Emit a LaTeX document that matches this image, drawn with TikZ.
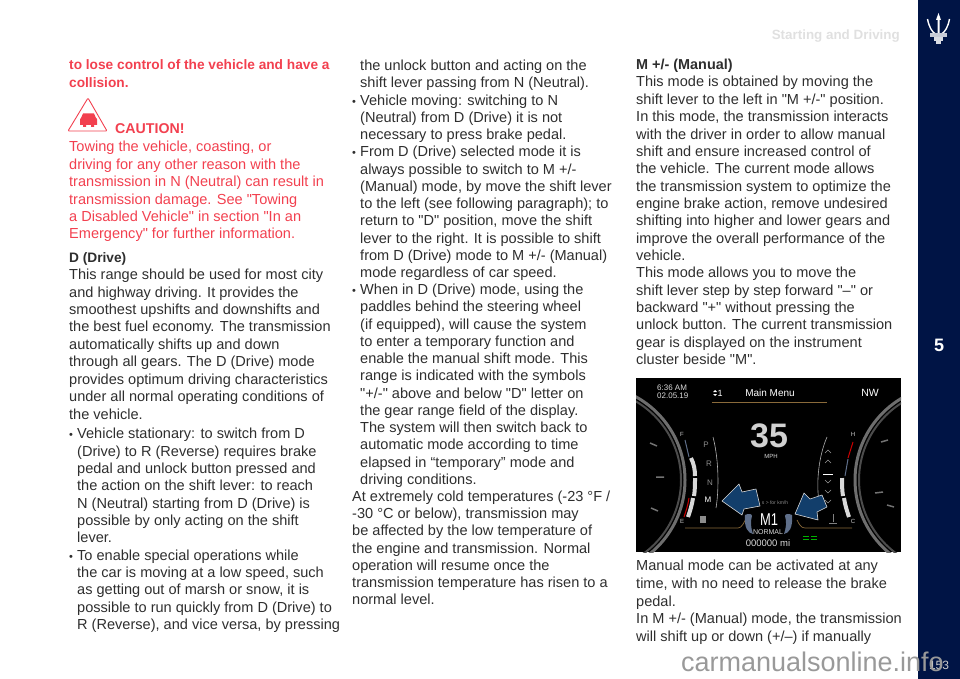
\documentclass[tikz,border=0pt]{standalone}
\usepackage{fontspec}
\setmainfont{Liberation Sans}[Ligatures=TeXOff]
\usetikzlibrary{positioning}
\definecolor{navy}{HTML}{001445}
\definecolor{redtext}{HTML}{F2404F}
\definecolor{bodygray}{HTML}{2E2E2E}
\definecolor{arrowblue}{HTML}{123E6B}
\definecolor{ringgray}{HTML}{6E6E6E}
\definecolor{trimorange}{HTML}{8A6A3A}
\definecolor{paddlegray}{HTML}{5F6F8A}
\tikzset{
  bodytext/.style={anchor=north west,inner sep=0pt,align=left,text=bodygray,
    font=\fontsize{14.55}{#1}\selectfont},
  boldtext/.style={bodytext=#1,text=redtext,font=\fontsize{13.7}{#1}\selectfont\bfseries},
  dashtext/.style={inner sep=0pt,text=white,font=\fontsize{#1}{#1}\selectfont},
  barwhite/.style={white!85!black,line width=4pt},
  bluearrow/.style={fill=arrowblue,draw=white!85!black,line width=0.6pt,line join=round},
}
\newcommand{\itm}{\makebox[8pt][l]{\fontsize{11}{11}\selectfont •}}
\newcommand{\ind}{\hspace*{8pt}}
\begin{document}
\begin{tikzpicture}[x=1pt,y=-1pt]
  \useasboundingbox (0,0) rectangle (960,679);
  % Bandeau lateral
  \fill[navy] (918,0) rectangle (960,679);
  \node[text=white,inner sep=0pt,font=\fontsize{18}{18}\selectfont\bfseries] (chapter) at (939,345) {5};
  % Titre
  \node[anchor=east,inner sep=0pt,text=black!12,font=\fontsize{13.4}{14}\selectfont\bfseries] (title) at (900,36) {Starting and Driving};
  % Trident
  \fill[white] (938.5,13) -- (941,20) -- (939.5,20) -- (939.5,34) -- (937.5,34) -- (937.5,20) -- (936,20) -- cycle;
  \draw[white,line width=1.4pt] (927.5,19) .. controls (929,27) and (932,32) .. (935.5,34);
  \draw[white,line width=1.4pt] (949.5,19) .. controls (948,27) and (945,32) .. (941.5,34);
  \fill[white!78!navy] (930,33.5) rectangle (947,37);
  \fill[white!85!navy] (934,37.5) rectangle (943,41);
  \fill[white!85!navy] (936,41) rectangle (941,44.5);

  % Colonne gauche
  \node[boldtext=18] (warning) at (69,59.5) {to lose control of the vehicle and have a\\collision.};
  \draw[redtext,line width=0.9pt,line join=round,rounded corners=1pt] (88,98) -- (107,131) -- (68,131) -- cycle;
  \fill[redtext] (81,118) -- (83,113.5) -- (94,113.5) -- (96,118) -- (97,119) -- (97,125) -- (94,125) -- (94,127) -- (91,127) -- (91,125) -- (86,125) -- (86,127) -- (83,127) -- (83,125) -- (80,125) -- (80,119) -- cycle;
  \node[boldtext=18,font=\fontsize{14.2}{18}\selectfont\bfseries] (caution) at (115,123.5) {CAUTION!};
  \node[bodytext=17.45,text=redtext] (towing) at (69,141) {Towing the vehicle, coasting, or\\driving for any other reason with the\\transmission in N (Neutral) can result in\\transmission damage. See "Towing\\a Disabled Vehicle" in section "In an\\Emergency" for further information.};
  \node[bodytext=17.45] (drive) at (69,252) {{\fontsize{13.7}{17.45}\selectfont\bfseries D (Drive)}\\This range should be used for most city\\and highway driving. It provides the\\smoothest upshifts and downshifts and\\the best fuel economy. The transmission\\automatically shifts up and down\\through all gears. The D (Drive) mode\\provides optimum driving characteristics\\under all normal operating conditions of\\the vehicle.};
  \node[bodytext=17.36] (stationary) at (69,428) {\itm Vehicle stationary: to switch from D\\\ind (Drive) to R (Reverse) requires brake\\\ind pedal and unlock button pressed and\\\ind the action on the shift lever: to reach\\\ind N (Neutral) starting from D (Drive) is\\\ind possible by only acting on the shift\\\ind lever.\\\itm To enable special operations while\\\ind the car is moving at a low speed, such\\\ind as getting out of marsh or snow, it is\\\ind possible to run quickly from D (Drive) to\\\ind R (Reverse), and vice versa, by pressing};

  % Colonne centrale
  \node[bodytext=17.23] (unlock) at (352,60) {\ind the unlock button and acting on the\\\ind shift lever passing from N (Neutral).\\\itm Vehicle moving: switching to N\\\ind (Neutral) from D (Drive) it is not\\\ind necessary to press brake pedal.\\\itm From D (Drive) selected mode it is\\\ind always possible to switch to M +/-\\\ind (Manual) mode, by move the shift lever\\\ind to the left (see following paragraph); to\\\ind return to "D" position, move the shift\\\ind lever to the right. It is possible to shift\\\ind from D (Drive) mode to M +/- (Manual)\\\ind mode regardless of car speed.\\\itm When in D (Drive) mode, using the\\\ind paddles behind the steering wheel\\\ind (if equipped), will cause the system\\\ind to enter a temporary function and\\\ind enable the manual shift mode. This\\\ind range is indicated with the symbols\\\ind "+/-" above and below "D" letter on\\\ind the gear range field of the display.\\\ind The system will then switch back to\\\ind automatic mode according to time\\\ind elapsed in “temporary” mode and\\\ind driving conditions.\\At extremely cold temperatures (-23 °F /\\-30 °C or below), transmission may\\be affected by the low temperature of\\the engine and transmission. Normal\\operation will resume once the\\transmission temperature has risen to a\\normal level.};

  % Colonne droite
  \node[bodytext=17.35] (manual) at (636,59) {{\fontsize{14.4}{17.35}\selectfont\bfseries M +/- (Manual)}\\This mode is obtained by moving the\\shift lever to the left in "M +/-" position.\\In this mode, the transmission interacts\\with the driver in order to allow manual\\shift and ensure increased control of\\the vehicle. The current mode allows\\the transmission system to optimize the\\engine brake action, remove undesired\\shifting into higher and lower gears and\\improve the overall performance of the\\vehicle.\\This mode allows you to move the\\shift lever step by step forward "–" or\\backward "+" without pressing the\\unlock button. The current transmission\\gear is displayed on the instrument\\cluster beside "M".};
  \node[bodytext=17.7] (activated) at (636,560) {Manual mode can be activated at any\\time, with no need to release the brake\\pedal.\\In M +/- (Manual) mode, the transmission\\will shift up or down (+/–) if manually};

  % Photo du tableau de bord
  \begin{scope}
    \clip (636,378) rectangle (901,552);
    \fill[black] (636,378) rectangle (901,552);
    % Cadrans
    \draw[ringgray,line width=3pt] (590,480) circle (95);
    \draw[black!70,line width=2pt] (590,480) circle (91);
    \draw[ringgray,line width=3pt] (950,480) circle (95);
    \draw[black!70,line width=2pt] (950,480) circle (91);
    \draw[black!55,line width=1.5pt] (650,443) -- (657,446) (656,477) -- (664,477) (651,508) -- (658,511);
    \draw[black!55,line width=1.5pt] (881,442) -- (888,440) (875,493) -- (883,492) (887,505) -- (894,507);
    % Jauges
    \draw[paddlegray,line width=1pt] (685,440) -- (689,457);
    \draw[barwhite] (691,458) .. controls (694,464) and (695,470) .. (695,476);
    \draw[barwhite] (695,478) .. controls (695,484) and (695,490) .. (694,496);
    \draw[barwhite] (693,498) .. controls (692,505) and (690,511) .. (688,517);
    \draw[red!80!black,line width=1pt] (689,498) .. controls (688,505) and (686,511) .. (684,517);
    \draw[red!80!black,line width=1pt] (853,442) -- (848,458);
    \draw[paddlegray,line width=1pt] (848,459) -- (845,476);
    \draw[barwhite] (842,478) .. controls (842,484) and (842,490) .. (843,496);
    \draw[barwhite] (844,498) .. controls (845,505) and (847,511) .. (849,517);
    % Crochets
    \draw[black!30,line width=0.6pt] (713,437) .. controls (719,460) and (719,490) .. (716,508);
    \draw[black!30,line width=0.6pt] (827,437) .. controls (817,460) and (816,490) .. (820,507);
    % Filets
    \draw[trimorange,line width=0.7pt] (712,402) -- (827,402);
    \draw[trimorange,line width=0.7pt] (685,528) -- (738,528) .. controls (742,528) and (744,522) .. (747,517);
    \draw[trimorange,line width=0.7pt] (852,528) -- (805,528) .. controls (801,528) and (799,524) .. (797,520);
    % Rapports
    \draw[white,line width=1pt] (823,474) -- (833,474);
    \foreach \yc in {453,463} {
      \draw[black!40,line width=0.6pt] (825,\yc) -- (828,{\yc-3}) -- (831,\yc);
    }
    \foreach \yc in {483,493,503} {
      \draw[black!40,line width=0.6pt] (825,{\yc-3}) -- (828,\yc) -- (831,{\yc-3});
    }
    % Palettes
    \fill[paddlegray] (745,515) .. controls (749,513) and (752,514) .. (752,516) .. controls (750,522) and (751,528) .. (753,534) .. controls (748,533) and (744,528) .. (745,515);
    \fill[paddlegray] (792,515) .. controls (788,513) and (785,514) .. (785,516) .. controls (787,522) and (786,528) .. (784,534) .. controls (789,533) and (793,528) .. (792,515);
    % Temoins
    \fill[black!45] (700,516) rectangle (706,523);
    \draw[black!50,line width=1pt] (833,514) -- (833,522) (829,523) -- (837,523);
    \draw[green!70!black,line width=0.8pt] (803,536) -- (809,536) (811,536) -- (817,536) (803,539) -- (809,539) (811,539) -- (817,539);
    \fill[white] (715,390) -- (717,392) -- (713,392) -- cycle;
    \fill[white] (715,396) -- (717,394) -- (713,394) -- cycle;
  \end{scope}
  \node[dashtext=8,anchor=west,align=left,text=white!85!black] (clock) at (657,392) {6:36 AM\\02.05.19};
  \node[dashtext=9] (compass) at (720,393) {1};
  \node[dashtext=10] (menu) at (770,393) {Main Menu};
  \node[dashtext=10.5] (north) at (870,393) {NW};
  \node[dashtext=34,font=\fontsize{34}{34}\selectfont\bfseries,text=white!82!black] (speed) at (769,436) {35};
  \node[dashtext=6,text=white!85!black] (mph) at (771,456) {MPH};
  \node[dashtext=8,text=black!45,font=\fontsize{8}{8}\selectfont] (gearp) at (706,445) {P};
  \node[dashtext=8,text=black!45,font=\fontsize{8}{8}\selectfont] (gearr) at (709,464) {R};
  \node[dashtext=8,text=black!45,font=\fontsize{8}{8}\selectfont] (gearn) at (710,483) {N};
  \node[dashtext=8,text=white] (gearm) at (708,500) {M};
  \node[dashtext=5,text=black!45] (hint) at (775,503) {s > for km/h};
  \node[dashtext=18,xscale=0.72,yscale=0.95] (gear) at (769,520) {M1};
  \node[dashtext=7,text=white!85!black] (normal) at (768,532) {NORMAL};
  \node[dashtext=9.5,text=white!85!black] (odo) at (768,543) {000000 mi};
  \node[dashtext=6,text=white!80!black] (fuel) at (682,434) {F};
  \node[dashtext=6,text=white!80!black] (empty) at (682,521) {E};
  \node[dashtext=6,text=white!80!black] (hot) at (853,434) {H};
  \node[dashtext=6,text=white!80!black] (cold) at (853,521) {C};
  % Fleches
  \draw[bluearrow] (722,501) -- (739,484) -- (742,492) -- (756,489) -- (760,506) -- (744,509) -- (742,515) -- cycle;
  \draw[bluearrow] (795,514) -- (804,493) -- (810,499) -- (822,495) -- (827,507) -- (817,512) -- (818,520) -- cycle;

  % Numero de page et filigrane
  \node[text=white!80!black,inner sep=0pt,font=\fontsize{12}{12}\selectfont] (page) at (939,665) {153};
  \node[anchor=base east,inner sep=0pt,text=black!40,font=\fontsize{27}{27}\selectfont] (watermark) at (944,671) {carmanualsonline.info};
\end{tikzpicture}
\end{document}
